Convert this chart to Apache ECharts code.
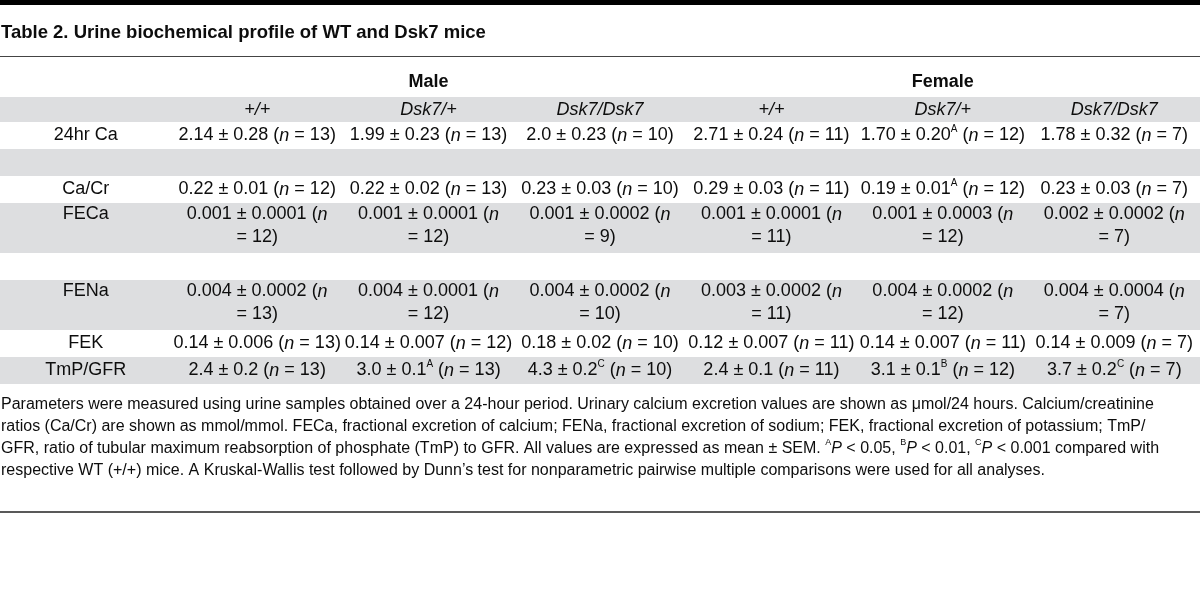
<!DOCTYPE html>
<html><head><meta charset="utf-8">
<script src="https://cdn.jsdelivr.net/npm/echarts@6/dist/echarts.min.js"></script>
<style>html,body{margin:0;padding:0;background:#fff}#c{width:1200px;height:593px}</style>
</head><body><div id="c"></div>
<script>
// ---------- content ----------
const tableTitle = 'Table 2. Urine biochemical profile of WT and Dsk7 mice';
const groups = ['Male', 'Female'];
const genotypes = ['+/+', 'Dsk7/+', 'Dsk7/Dsk7'];
const parameters = ['24hr Ca', '', 'Ca/Cr', 'FECa', '', 'FENa', 'FEK', 'TmP/GFR'];
// cell markup: *x* = italic, ^X = superscript
const maleWT = ['2.14 ± 0.28 (*n* = 13)', '', '0.22 ± 0.01 (*n* = 12)', '0.001 ± 0.0001 (*n* = 12)', '', '0.004 ± 0.0002 (*n* = 13)', '0.14 ± 0.006 (*n* = 13)', '2.4 ± 0.2 (*n* = 13)'];
const maleHet = ['1.99 ± 0.23 (*n* = 13)', '', '0.22 ± 0.02 (*n* = 13)', '0.001 ± 0.0001 (*n* = 12)', '', '0.004 ± 0.0001 (*n* = 12)', '0.14 ± 0.007 (*n* = 12)', '3.0 ± 0.1^A (*n* = 13)'];
const maleHom = ['2.0 ± 0.23 (*n* = 10)', '', '0.23 ± 0.03 (*n* = 10)', '0.001 ± 0.0002 (*n* = 9)', '', '0.004 ± 0.0002 (*n* = 10)', '0.18 ± 0.02 (*n* = 10)', '4.3 ± 0.2^C (*n* = 10)'];
const femaleWT = ['2.71 ± 0.24 (*n* = 11)', '', '0.29 ± 0.03 (*n* = 11)', '0.001 ± 0.0001 (*n* = 11)', '', '0.003 ± 0.0002 (*n* = 11)', '0.12 ± 0.007 (*n* = 11)', '2.4 ± 0.1 (*n* = 11)'];
const femaleHet = ['1.70 ± 0.20^A (*n* = 12)', '', '0.19 ± 0.01^A (*n* = 12)', '0.001 ± 0.0003 (*n* = 12)', '', '0.004 ± 0.0002 (*n* = 12)', '0.14 ± 0.007 (*n* = 11)', '3.1 ± 0.1^B (*n* = 12)'];
const femaleHom = ['1.78 ± 0.32 (*n* = 7)', '', '0.23 ± 0.03 (*n* = 7)', '0.002 ± 0.0002 (*n* = 7)', '', '0.004 ± 0.0004 (*n* = 7)', '0.14 ± 0.009 (*n* = 7)', '3.7 ± 0.2^C (*n* = 7)'];
const footnoteLines = [
  'Parameters were measured using urine samples obtained over a 24-hour period. Urinary calcium excretion values are shown as μmol/24 hours. Calcium/creatinine',
  'ratios (Ca/Cr) are shown as mmol/mmol. FECa, fractional excretion of calcium; FENa, fractional excretion of sodium; FEK, fractional excretion of potassium; TmP/',
  'GFR, ratio of tubular maximum reabsorption of phosphate (TmP) to GFR. All values are expressed as mean ± SEM. ^A*P* < 0.05, ^B*P* < 0.01, ^C*P* < 0.001 compared with',
  'respective WT (+/+) mice. A Kruskal-Wallis test followed by Dunn’s test for nonparametric pairwise multiple comparisons were used for all analyses.'
];

// ---------- layout / style ----------
const F = '"Liberation Sans", Arial, sans-serif';
const INK = '#0d0d0d';
const BAND = '#dddee0';
const LINE_H = 23;
const dataCols = [maleWT, maleHet, maleHom, femaleWT, femaleHet, femaleHom];
const colNames = [''].concat(genotypes, genotypes);

function plain(s) { return s.replace(/\^([A-C])/g, '$1').replace(/\*/g, ''); }
function wrapCell(s) { return plain(s).length >= 22 ? s.replace(' = ', '\n= ') : s; }
function toRich(s, base) {
  return s.split(/(\^[A-C]|\*[^*]+\*)/).filter(p => p !== '').map(p => {
    if (p[0] === '^') return '{' + base + 's|' + p.slice(1) + '}';
    if (p[0] === '*') return '{' + base + 'i|' + p.slice(1, -1) + '}';
    return '{' + base + '|' + p + '}';
  }).join('');
}

// row geometry (header row + parameter rows)
const rowLines = parameters.map((p, r) => Math.max(1, ...dataCols.map(c => wrapCell(c[r]).split('\n').length)));
const rows = [];
let acc = 25;
rows.push({ y0: 0, y1: 25, n: 1 });
rowLines.forEach(n => { const h = 27 + (n - 1) * LINE_H; rows.push({ y0: acc, y1: acc + h, n: n }); acc += h; });
const totalH = acc;

const bandData = rows.map((r, i) => [0, r.y0, r.y1, i % 2 === 0 ? 1 : 0]);

const cells = [];
cells.push({ col: 2, y: -15, text: '{gb|' + groups[0] + '}' });
cells.push({ col: 5, y: -15, text: '{gb|' + groups[1] + '}' });
colNames.forEach((g, c) => { if (g) cells.push({ col: c, y: (rows[0].y0 + rows[0].y1) / 2, text: '{ti|' + g + '}' }); });
parameters.forEach((p, r) => {
  const row = rows[r + 1];
  const shift = row.n > 1 ? -2 : 0;
  const yc = (row.y0 + row.y1) / 2 + shift;
  const yFirst = yc - (row.n - 1) * LINE_H / 2;
  if (p) cells.push({ col: 0, y: yFirst, text: '{t|' + p + '}' });
  dataCols.forEach((col, c) => { if (col[r]) cells.push({ col: c + 1, y: yc, text: toRich(wrapCell(col[r]), 't') }); });
});

const richStyles = {
  t: { fontSize: 18, fontFamily: F, fill: INK, lineHeight: LINE_H },
  ti: { fontSize: 18, fontFamily: F, fill: INK, fontStyle: 'italic', lineHeight: LINE_H },
  ts: { fontSize: 10, fontFamily: F, fill: INK, lineHeight: 21, verticalAlign: 'top' },
  gb: { fontSize: 18, fontFamily: F, fill: INK, fontWeight: 'bold', lineHeight: LINE_H },
  f: { fontSize: 16, fontFamily: F, fill: INK, lineHeight: 22 },
  fi: { fontSize: 16, fontFamily: F, fill: INK, fontStyle: 'italic', lineHeight: 22 },
  fs: { fontSize: 9, fontFamily: F, fill: INK, lineHeight: 19, verticalAlign: 'top' }
};

const chart = echarts.init(document.getElementById('c'), null, { renderer: 'canvas' });
const footY0 = 405, footStep = 22;
chart.setOption({
  animation: false,
  backgroundColor: '#fff',
  grid: { left: 0, right: 0, top: 97, height: totalH },
  xAxis: { type: 'category', data: colNames, show: false, boundaryGap: true },
  yAxis: { type: 'value', inverse: true, min: 0, max: totalH, show: false },
  graphic: [
    { type: 'rect', shape: { x: 0, y: 0, width: 1200, height: 5 }, style: { fill: '#000' } },
    { type: 'text', x: 1, y: 33, style: { text: tableTitle, font: 'bold 18.5px ' + F, fill: INK, verticalAlign: 'middle' } },
    { type: 'line', shape: { x1: 0, y1: 56.5, x2: 1200, y2: 56.5 }, style: { stroke: '#444', lineWidth: 1 } },
    { type: 'line', shape: { x1: 0, y1: 512, x2: 1200, y2: 512 }, style: { stroke: '#222', lineWidth: 1.5 } }
  ].concat(footnoteLines.map((l, i) => ({
    type: 'text', x: 1, y: footY0 + i * footStep,
    style: { text: toRich(l, 'f'), rich: richStyles, verticalAlign: 'middle', fill: INK }
  }))),
  series: [
    {
      type: 'custom', name: 'bands', silent: true, clip: false,
      data: bandData,
      renderItem: (params, api) => {
        const a = api.coord([0, api.value(1)]), b = api.coord([0, api.value(2)]);
        if (!api.value(3)) return null;
        return { type: 'rect', shape: { x: params.coordSys.x, y: a[1], width: params.coordSys.width, height: b[1] - a[1] }, style: { fill: BAND } };
      }
    },
    {
      type: 'custom', name: 'cells', silent: true, clip: false,
      data: cells.map(c => [c.col, c.y]),
      renderItem: (params, api) => {
        const p = api.coord([api.value(0), api.value(1)]);
        return { type: 'text', x: p[0], y: p[1], style: { text: cells[params.dataIndex].text, rich: richStyles, align: 'center', verticalAlign: 'middle', fill: INK } };
      }
    }
  ]
});
</script></body></html>
